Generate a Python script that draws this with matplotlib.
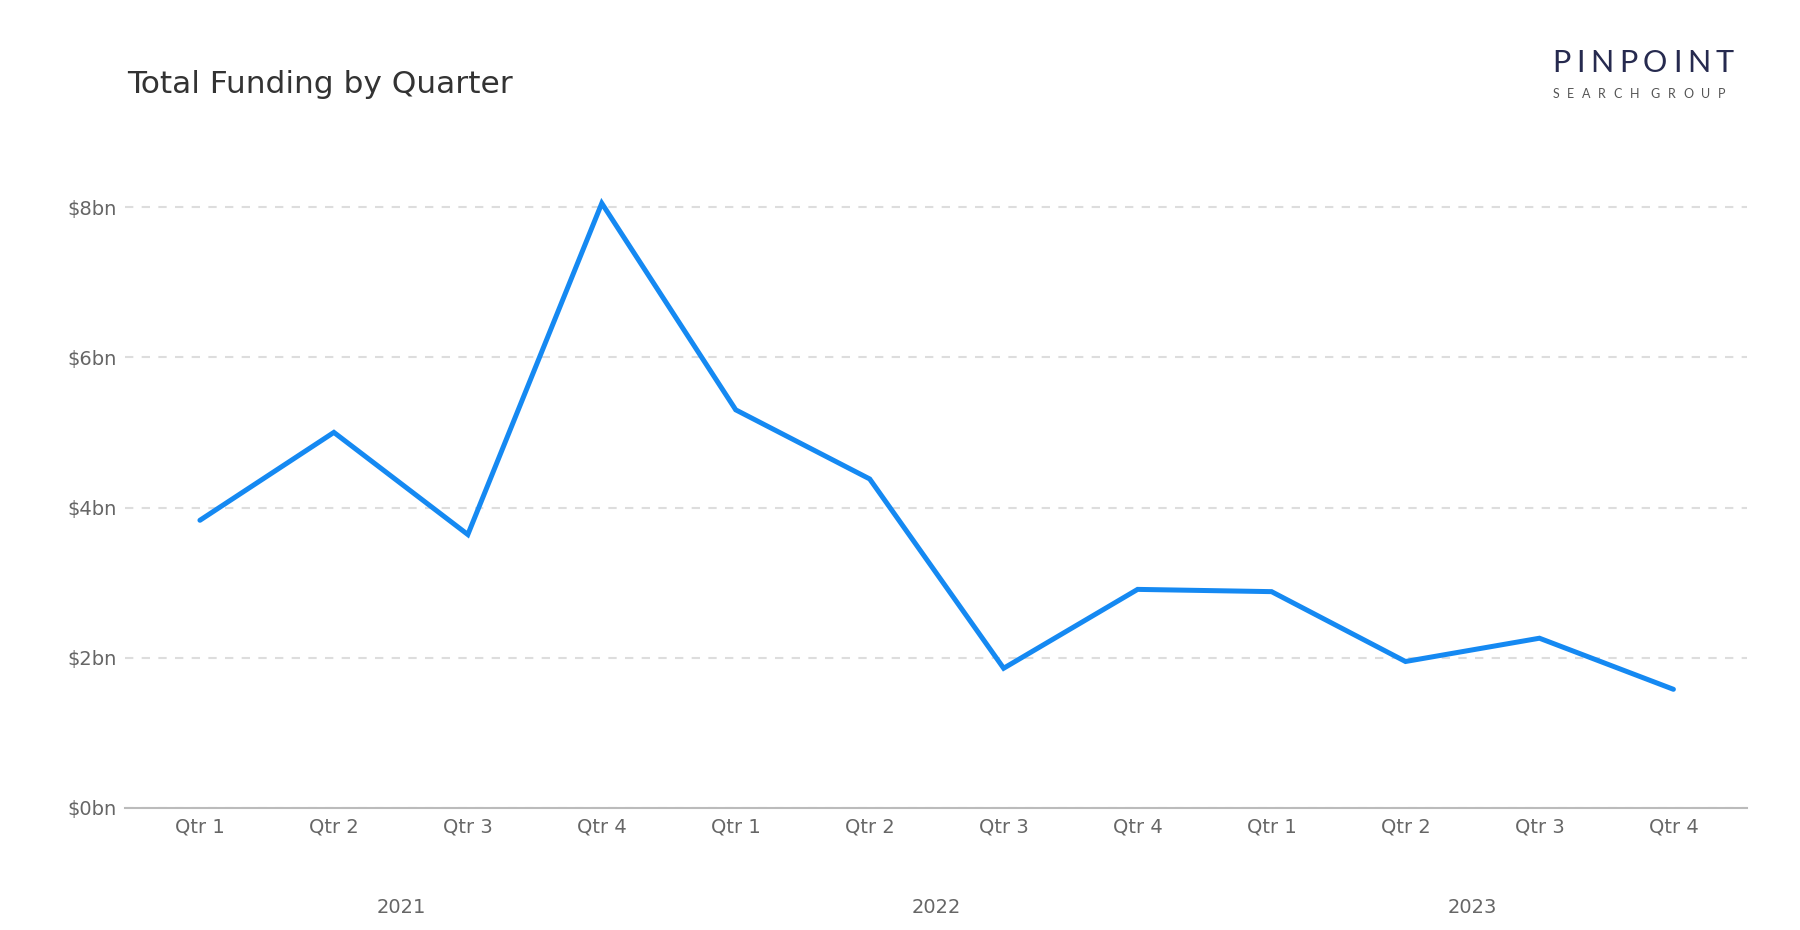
import matplotlib
matplotlib.use("Agg")
import matplotlib.pyplot as plt

quarters = ["Qtr 1", "Qtr 2", "Qtr 3", "Qtr 4"] * 3
years = ["2021", "2022", "2023"]
funding_bn = [3.83, 5.00, 3.64, 8.05, 5.30, 4.38, 1.86, 2.91, 2.88, 1.95, 2.26, 1.58]
y_ticks = [0, 2, 4, 6, 8]
y_tick_labels = ["$0bn", "$2bn", "$4bn", "$6bn", "$8bn"]

plt.rcParams['font.family'] = ['DejaVu Sans']

W, H = 1800, 930
fig = plt.figure(figsize=(18, 9.3), dpi=100)
ax = fig.add_axes([0.0694, 0.1312, 0.9012, 0.6785])

x = list(range(len(funding_bn)))
ax.plot(x, funding_bn, color="#1589F2", linewidth=3.6, solid_capstyle="round",
        solid_joinstyle="miter", zorder=3)

ax.set_xlim(-0.56, 11.55)
ax.set_ylim(0, 8.4)
ax.set_yticks(y_ticks)
ax.set_yticklabels(y_tick_labels)
ax.set_xticks(x)
ax.set_xticklabels(quarters)
ax.tick_params(axis="both", length=0, labelsize=14, labelcolor="#666666")
ax.tick_params(axis="y", pad=6)
ax.tick_params(axis="x", pad=7)

ax.yaxis.grid(True, color="#dddddd", linestyle=(0, (4, 4)), linewidth=1.5)
ax.set_axisbelow(True)
for s in ["top", "right", "left"]:
    ax.spines[s].set_visible(False)
ax.spines["bottom"].set_color("#bbbbbb")
ax.spines["bottom"].set_linewidth(1.5)

for i, yr in enumerate(years):
    ax.text(i * 4 + 1.5, -0.157, yr, transform=ax.get_xaxis_transform(),
            ha="center", va="center", fontsize=14, color="#666666")

fig.text(127 / W, 1 - 93 / H, "Total Funding by Quarter", fontsize=22.5,
         color="#333333", ha="left", va="baseline")

# logo, drawn letter by letter to get the wide tracking
renderer = fig.canvas.get_renderer()


def spaced_text(x_left, x_right, y_base, text, size, color, space_px, weight="normal"):
    arts = []
    widths = []
    for ch in text:
        if ch == " ":
            arts.append(None)
            widths.append(space_px)
            continue
        t = fig.text(0, 1 - y_base / H, ch, fontsize=size, color=color,
                     family=["Lato", "DejaVu Sans"], fontweight=weight,
                     ha="left", va="baseline")
        arts.append(t)
        widths.append(t.get_window_extent(renderer).width)
    n_gaps = sum(1 for a in arts if a is not None) - 1
    gap = (x_right - x_left - sum(widths)) / n_gaps
    pos = x_left
    for t, w in zip(arts, widths):
        if t is None:
            pos += w
            continue
        t.set_x(pos / W)
        pos += w + gap


spaced_text(1552, 1734, 72, "PINPOINT", 22, "#262A4F", 0)
spaced_text(1553, 1725, 98, "SEARCH GROUP", 9, "#555555", 4)

fig.savefig("out.png", dpi=100, facecolor="white")
